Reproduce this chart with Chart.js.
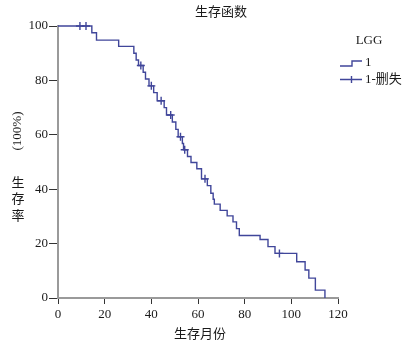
<!DOCTYPE html>
<html><head><meta charset="utf-8">
<script src="https://cdn.jsdelivr.net/npm/chart.js@4/dist/chart.umd.min.js"></script>
<style>html,body{margin:0;padding:0;background:#fff}#wrap{width:406px;height:343px}</style>
</head><body><div id="wrap"><canvas id="c" width="406" height="343"></canvas></div>
<script>
const chartTitle = '生存函数';
const xAxisTitle = '生存月份';
const yAxisTitleLatin = '(100%)';
const yAxisTitleCJK = '生存率';
const legendTitle = 'LGG';
const seriesLabels = ['1', '1-删失'];
const xTickValues = [0, 20, 40, 60, 80, 100, 120];
const yTickValues = [0, 20, 40, 60, 80, 100];

// Kaplan-Meier step points: time (months) and survival (%) after the step
const eventTimes = [0, 14.5, 16.5, 26, 32.5, 33.5, 34.5, 36.5, 37.5, 39, 41, 42.5, 45.5, 46.5, 49, 50.5, 51.5, 53.3, 53.8, 55.5, 57, 59.5, 61.5, 64, 65.5, 66.5, 67, 69.5, 72.5, 75, 76.5, 77.7, 86.6, 90, 93, 102.3, 105.9, 107.5, 110.3, 114.4];
const survival   = [100, 97.5, 94.8, 92.5, 90, 87.5, 85.5, 83, 80.5, 78, 75.5, 72.5, 70, 67.3, 64.7, 62, 59.3, 56.8, 54.5, 52, 49.8, 47.5, 43.8, 41.3, 38.5, 36.3, 34.5, 32.2, 30.2, 28, 25.5, 23, 21.5, 18.9, 16.4, 13.3, 10.3, 7.3, 2.9, 0];
// censored observations
const censorTimes    = [9.4, 12, 35.5, 40, 44.2, 48.3, 52.5, 54.3, 63, 94.9];
const censorSurvival = [100, 100, 85.5, 78, 72.5, 67.3, 59.3, 54.5, 43.8, 16.4];

const lineColor = '#40469a';
const serif = '"Liberation Serif", "Times New Roman", serif';
const cjk = '"Noto Sans CJK SC", sans-serif';

const textPlugin = {
  id: 'texts',
  afterDraw(chart) {
    const ctx = chart.ctx;
    ctx.save();
    ctx.fillStyle = '#1a1a1a';
    ctx.textBaseline = 'middle';
    ctx.textAlign = 'center';
    ctx.font = '13px ' + cjk;
    ctx.fillText(chartTitle, 221, 11);
    ctx.fillText(xAxisTitle, 200, 333);
    ctx.save();
    ctx.translate(18, 131);
    ctx.rotate(-Math.PI / 2);
    ctx.font = '13px ' + serif;
    ctx.fillText(yAxisTitleLatin, 0, 0);
    ctx.restore();
    ctx.font = '13px ' + cjk;
    [...yAxisTitleCJK].forEach((ch, i) => ctx.fillText(ch, 18, 182 + i * 16.5));
    // legend
    ctx.font = '13px ' + serif;
    ctx.fillText(legendTitle, 369, 41);
    ctx.strokeStyle = lineColor;
    ctx.lineWidth = 1.4;
    ctx.beginPath();
    ctx.moveTo(340, 66); ctx.lineTo(352, 66); ctx.lineTo(352, 61); ctx.lineTo(362, 61);
    ctx.stroke();
    ctx.beginPath();
    ctx.moveTo(340, 79.5); ctx.lineTo(362, 79.5);
    ctx.moveTo(351.5, 76); ctx.lineTo(351.5, 83);
    ctx.stroke();
    ctx.textAlign = 'left';
    ctx.font = '13px ' + serif + ', ' + cjk;
    ctx.fillText(seriesLabels[0], 365, 63);
    ctx.fillText(seriesLabels[1], 365, 80);
    ctx.restore();
  }
};

const axisCommon = (ticksArr) => ({
  type: 'linear',
  min: ticksArr[0],
  max: ticksArr[ticksArr.length - 1],
  afterBuildTicks: s => { s.ticks = ticksArr.map(v => ({ value: v })); },
  ticks: { font: { family: serif, size: 13 }, color: '#1a1a1a', autoSkip: false, maxRotation: 0 },
  grid: { drawOnChartArea: false, drawTicks: true, color: '#333', lineWidth: 1 },
  border: { display: true, color: '#9a9a9a', width: 2 }
});

const xAxis = axisCommon(xTickValues);
xAxis.ticks.padding = 3;
xAxis.grid.tickLength = 6;
xAxis.afterFit = s => { s.height = 45; };
const yAxis = axisCommon(yTickValues);
yAxis.ticks.padding = 1;
yAxis.grid.tickLength = 9;
yAxis.afterFit = s => { s.width = 58; };

new Chart(document.getElementById('c'), {
  type: 'line',
  data: {
    datasets: [
      {
        label: seriesLabels[0],
        data: eventTimes.map((t, i) => ({ x: t, y: survival[i] })),
        stepped: true,
        borderColor: lineColor,
        borderWidth: 1.4,
        pointRadius: 0,
        fill: false,
        clip: false
      },
      {
        label: seriesLabels[1],
        data: censorTimes.map((t, i) => ({ x: t, y: censorSurvival[i] })),
        showLine: false,
        pointStyle: 'cross',
        pointRadius: 4,
        borderColor: lineColor,
        borderWidth: 1.4,
        clip: false
      }
    ]
  },
  options: {
    responsive: false,
    animation: false,
    devicePixelRatio: 1,
    layout: { padding: { top: 26, right: 68, left: 0, bottom: 0 } },
    plugins: { legend: { display: false }, title: { display: false }, tooltip: { enabled: false } },
    scales: { x: xAxis, y: yAxis }
  },
  plugins: [textPlugin]
});
</script>
</body></html>
